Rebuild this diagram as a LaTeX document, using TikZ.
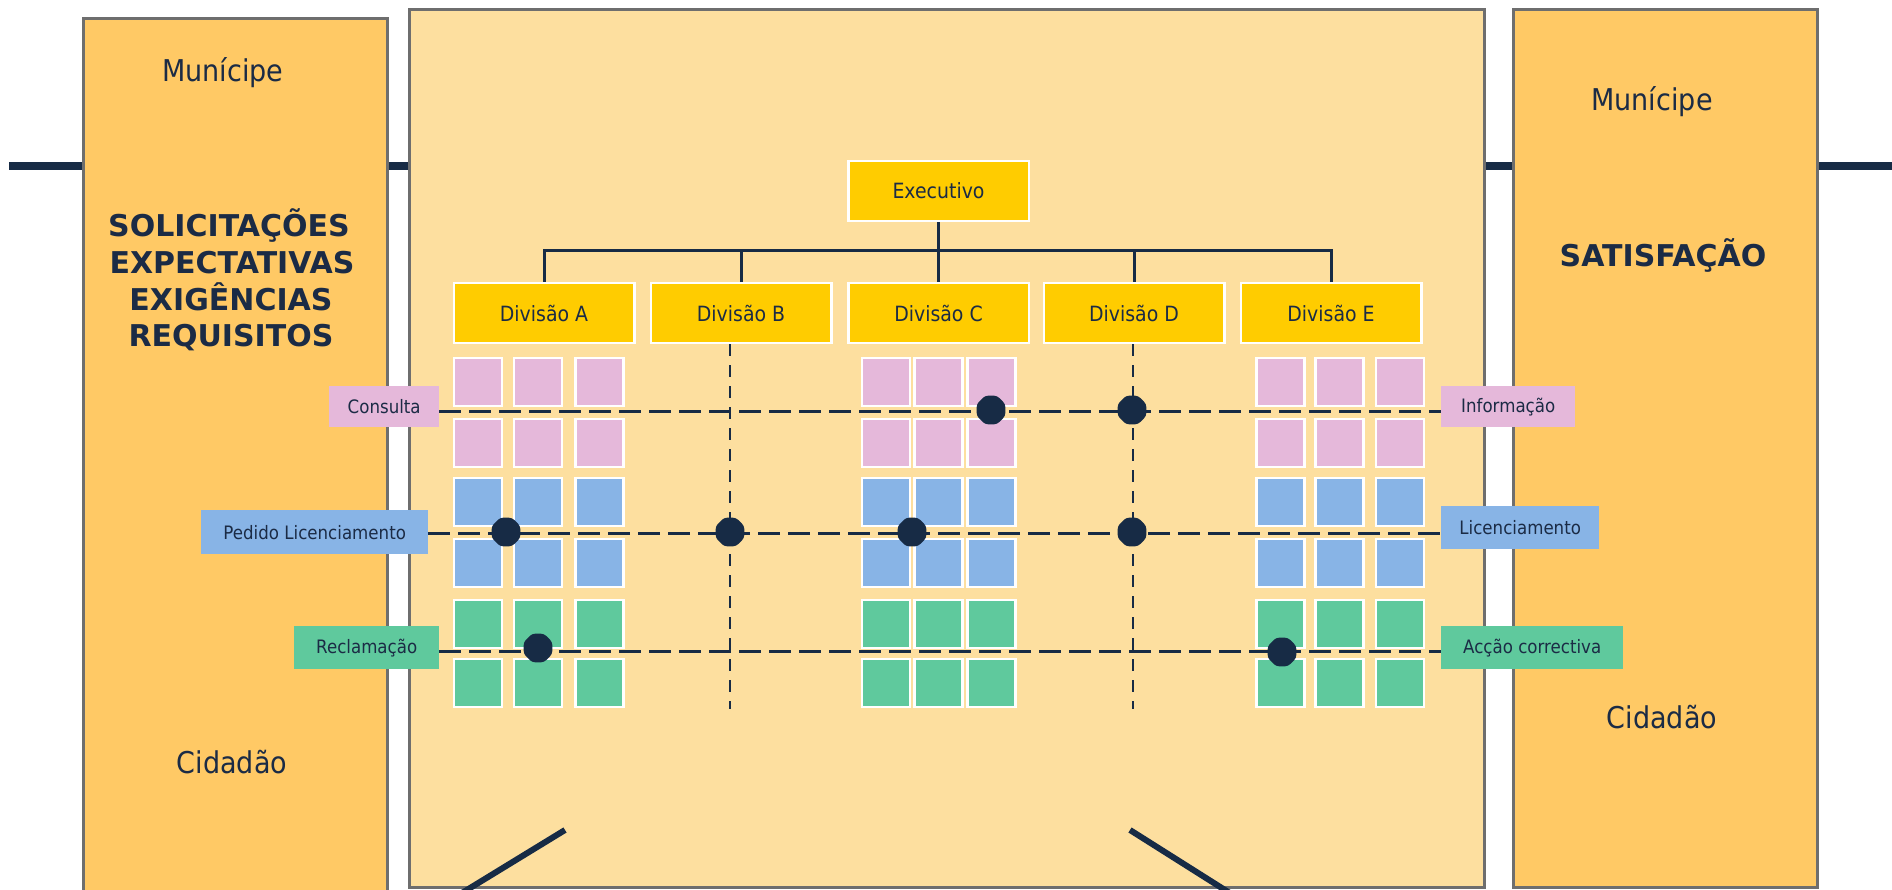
\documentclass[tikz,border=0pt]{standalone}
\usepackage{fontspec}
\setmainfont{DejaVu Sans}[FakeStretch=0.9]
\newfontfamily\headfont{DejaVu Sans}
\usetikzlibrary{shapes.geometric}

\definecolor{navy}{HTML}{172B45}
\definecolor{ink}{HTML}{1B2B45}
\definecolor{panelor}{HTML}{FFC965}
\definecolor{panellt}{HTML}{FDDF9F}
\definecolor{gold}{HTML}{FFCC00}
\definecolor{edge}{HTML}{6E6E6E}
\definecolor{pinkc}{HTML}{E5B8DA}
\definecolor{bluec}{HTML}{88B4E6}
\definecolor{greenc}{HTML}{5FC99D}

\begin{document}
\begin{tikzpicture}[x=1pt,y=-1pt,
  panel/.style={draw=edge, line width=3pt, anchor=north west, inner sep=0pt},
  unit/.style={fill=gold, draw=white, line width=2.5pt, minimum width=180.5pt,
    minimum height=60pt, inner sep=0pt, font=\fontsize{21}{25}\selectfont, text=ink},
  tag/.style={inner sep=0pt, anchor=north west, font=\fontsize{18.5}{22}\selectfont, text=ink},
  cell/.style={draw=white, line width=2.5pt, minimum width=48pt, minimum height=48pt, inner sep=0pt},
  hub/.style={regular polygon, regular polygon sides=8, fill=navy, minimum size=31pt,
    inner sep=0pt, rounded corners=3pt},
  tree/.style={draw=navy, line width=3pt},
  flow/.style={draw=navy, line width=3pt, dash pattern=on 22pt off 8pt},
  drop/.style={draw=navy, line width=2.5pt, dash pattern=on 12pt off 9pt},
  big/.style={font=\fontsize{30}{36}\selectfont, text=ink, anchor=base},
  head/.style={font=\headfont\fontsize{30}{37}\bfseries\selectfont, text=ink, anchor=base},
  slash/.style={draw=navy, line width=6pt},
]
\useasboundingbox (0,0) rectangle (1892,890);
\clip (0,0) rectangle (1892,890);
\fill[white] (0,0) rectangle (1892,890);

% horizontal rail running behind the three panels
\coordinate (railL) at (9,166);
\coordinate (railR) at (1892,166);
\draw[navy, line width=8.5pt] (railL) -- (railR);

% the three panels
\node[panel, fill=panelor, minimum width=304pt, minimum height=890pt] (citizen) at (82,17) {};
\node[panel, fill=panellt, minimum width=1075pt, minimum height=878pt] (office) at (408,8) {};
\node[panel, fill=panelor, minimum width=304pt, minimum height=878pt] (result) at (1512,8) {};

% panel texts
\node[big] (mun1) at (223,82) {Munícipe};
\node[big] (cid1) at (232,773) {Cidadão};
\node[big] (mun2) at (1652,111) {Munícipe};
\node[big] (cid2) at (1662,728) {Cidadão};
\node[head] (req1) at (229,237) {SOLICITAÇÕES};
\node[head] (req2) at (232,274) {EXPECTATIVAS};
\node[head] (req3) at (231,311) {EXIGÊNCIAS};
\node[head] (req4) at (231,347) {REQUISITOS};
\node[head] (sat) at (1663,267) {SATISFAÇÃO};

% organisation chart
\node[unit] (exec) at (938.5,191) {Executivo};
\node[unit] (dA) at (544,313) {Divisão A};
\node[unit] (dB) at (741,313) {Divisão B};
\node[unit] (dC) at (938.5,313) {Divisão C};
\node[unit] (dD) at (1134,313) {Divisão D};
\node[unit] (dE) at (1331,313) {Divisão E};
\coordinate (busy) at (0,251);
\draw[tree] (exec.south) -- (exec.south |- busy);
\draw[tree] (dA.north) -- (dA.north |- busy) -- (dE.north |- busy) -- (dE.north);
\foreach \d in {dB,dC,dD} { \draw[tree] (\d.north) -- (\d.north |- busy); }

% process cells of divisions A, C and E
\foreach \grp/\xa/\xb/\xc in {A/478/538/599.5, C/886/938.5/991.5, E/1280.5/1339.5/1400} {
  \foreach \r/\yy/\cc in {1/382/pinkc, 2/443/pinkc, 3/502/bluec, 4/563/bluec, 5/624/greenc, 6/683/greenc} {
    \node[cell, fill=\cc] (\grp-\r-1) at (\xa,\yy) {};
    \node[cell, fill=\cc] (\grp-\r-2) at (\xb,\yy) {};
    \node[cell, fill=\cc] (\grp-\r-3) at (\xc,\yy) {};
  }
}

% dashed drops under divisions B and D
\coordinate (bEnd) at (730,709);
\coordinate (dEnd) at (1133,709);
\draw[drop] (dB.south -| bEnd) -- (bEnd);
\draw[drop] (dD.south -| dEnd) -- (dEnd);

% request and response labels
\node[tag, fill=pinkc, minimum width=110pt, minimum height=41pt] (consulta) at (329,386) {Consulta};
\node[tag, fill=bluec, minimum width=227pt, minimum height=44pt] (pedido) at (201,510) {Pedido Licenciamento};
\node[tag, fill=greenc, minimum width=145pt, minimum height=43pt] (reclam) at (294,626) {Reclamação};
\node[tag, fill=pinkc, minimum width=134pt, minimum height=41pt] (info) at (1441,386) {Informação};
\node[tag, fill=bluec, minimum width=158pt, minimum height=43pt] (licen) at (1441,506) {Licenciamento};
\node[tag, fill=greenc, minimum width=182pt, minimum height=43pt] (accao) at (1441,626) {Acção correctiva};

% flows crossing the organisation
\coordinate (row1) at (0,411);
\coordinate (row2) at (0,533);
\coordinate (row3) at (0,651);
\draw[flow] (consulta.east |- row1) -- (info.west |- row1);
\draw[flow] (pedido.east |- row2) -- (licen.west |- row2);
\draw[flow] (reclam.east |- row3) -- (accao.west |- row3);

% touch points
\node[hub] (h1) at (991,410) {};
\node[hub] (h2) at (1132,410) {};
\node[hub] (h3) at (506,532) {};
\node[hub] (h4) at (730,532) {};
\node[hub] (h5) at (912,532) {};
\node[hub] (h6) at (1132,532) {};
\node[hub] (h7) at (538,648) {};
\node[hub] (h8) at (1282,652) {};

% slanted strokes at the foot of the central panel
\coordinate (sA1) at (565,830);
\coordinate (sA2) at (457,896);
\coordinate (sB1) at (1130,830);
\coordinate (sB2) at (1234.5,896);
\draw[slash] (sA1) -- (sA2);
\draw[slash] (sB1) -- (sB2);
\end{tikzpicture}
\end{document}
